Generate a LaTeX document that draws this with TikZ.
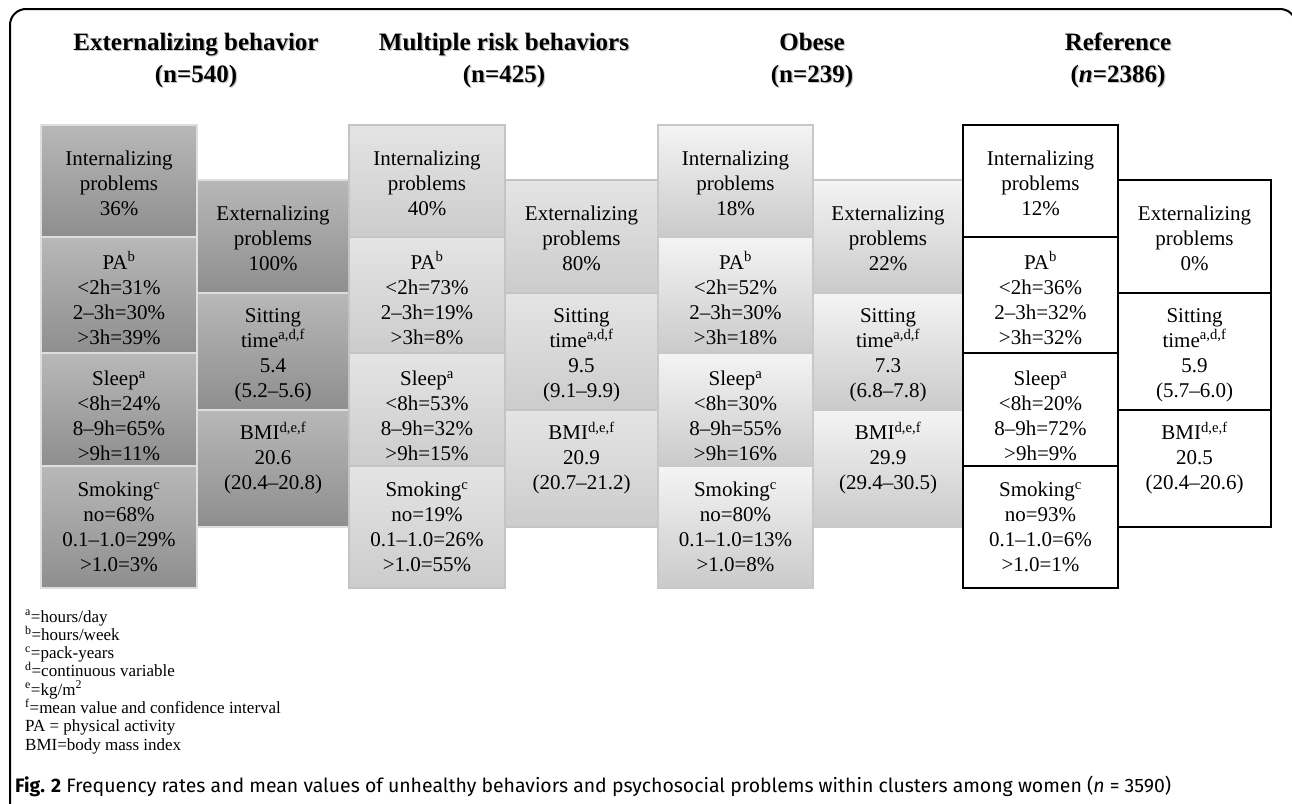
\documentclass[tikz,border=0pt]{standalone}
\usepackage{fontspec}
\setmainfont{Liberation Serif}
\newfontfamily\capfont{Fira Sans}
\usepackage{graphicx}
\definecolor{cAtop}{RGB}{184,184,184}
\definecolor{cAbot}{RGB}{142,142,142}
\definecolor{cAln}{RGB}{222,222,222}
\definecolor{cBtop}{RGB}{228,228,228}
\definecolor{cBbot}{RGB}{204,204,204}
\definecolor{cBln}{RGB}{196,196,196}
\definecolor{cCtop}{RGB}{244,244,244}
\definecolor{cCbot}{RGB}{202,202,202}
\definecolor{cCln}{RGB}{200,200,200}
\definecolor{shadowgray}{RGB}{200,200,200}

% left stack: #1 xl, #2 xr, #3 style, #4 prefix, #5 int, #6 pa, #7 sleep, #8 smoking
\newcommand{\leftstack}[8]{%
  \pgfmathsetmacro\bw{#2-#1}%
  \pgfmathsetmacro\cx{(#1+#2)/2}%
  \node[#3, anchor=north west, minimum width=\bw pt, minimum height=112pt] (#4int) at (#1,125) {};
  \node[#3, anchor=north west, minimum width=\bw pt, minimum height=116pt] (#4pa) at (#1,237) {};
  \node[#3, anchor=north west, minimum width=\bw pt, minimum height=113pt] (#4sl) at (#1,353) {};
  \node[#3, anchor=north west, minimum width=\bw pt, minimum height=122pt] (#4sm) at (#1,466) {};
  \node[txt] (#4intT) at (\cx,183) {#5};
  \node[txt] (#4paT) at (\cx,298) {#6};
  \node[txt] (#4slT) at (\cx,416) {#7};
  \node[txt] (#4smT) at (\cx,527) {#8};
}
% right stack: #1 xl, #2 xr, #3 style, #4 prefix, #5 ext, #6 sitting, #7 bmi
\newcommand{\rightstack}[7]{%
  \pgfmathsetmacro\bw{#2-#1}%
  \pgfmathsetmacro\cx{(#1+#2)/2}%
  \node[#3, anchor=north west, minimum width=\bw pt, minimum height=113pt] (#4ext) at (#1,180) {};
  \node[#3, anchor=north west, minimum width=\bw pt, minimum height=117pt] (#4sit) at (#1,293) {};
  \node[#3, anchor=north west, minimum width=\bw pt, minimum height=117pt] (#4bmi) at (#1,410) {};
  \node[txt] (#4extT) at (\cx,238) {#5};
  \node[txt] (#4sitT) at (\cx,355) {#6};
  \node[txt] (#4bmiT) at (\cx,458) {#7};
}
\newcommand{\ttlpair}[4]{%
  \node[ttl, text=shadowgray] (#4sa) at (#1+1.3,51.3) {#2};
  \node[ttl, text=shadowgray] (#4sb) at (#1+1.3,83.3) {#3};
  \node[ttl] (#4ta) at (#1,50) {#2};
  \node[ttl] (#4tb) at (#1,82) {#3};
}

\begin{document}
\begin{tikzpicture}[x=1pt,y=-1pt,
  txt/.style={align=center, font=\fontsize{21}{25}\selectfont, inner sep=0pt},
  gbox/.style={line width=1.3pt, inner sep=0pt, outer sep=0pt},
  boxA/.style={gbox, draw=cAln, top color=cAtop, bottom color=cAbot},
  boxB/.style={gbox, draw=cBln, top color=cBtop, bottom color=cBbot},
  boxC/.style={gbox, draw=cCln, top color=cCtop, bottom color=cCbot},
  boxR/.style={line width=1.8pt, inner sep=0pt, outer sep=0pt, draw=black, fill=white},
  ttl/.style={font=\bfseries\fontsize{25}{30}\selectfont, inner sep=0pt, anchor=base},
  fn/.style={font=\fontsize{17}{18}\selectfont, inner sep=0pt, anchor=base west},
]
\useasboundingbox (0,0) rectangle (1292,803);
\fill[white] (0,0) rectangle (1292,803);

% outer frame
\draw[line width=2pt, rounded corners=16pt] (10,810) -- (10,9) -- (1296,9) -- (1296,60);

% titles
\ttlpair{196}{Externalizing behavior}{(n=540)}{t1}
\ttlpair{504}{Multiple risk behaviors}{(n=425)}{t2}
\ttlpair{812}{Obese}{(n=239)}{t3}
\ttlpair{1118}{Reference}{(\textit{n}=2386)}{t4}

% column 1
\leftstack{41}{197}{boxA}{a}{Internalizing\\problems\\36\%}{PA\textsuperscript{b}\\<2h=31\%\\2–3h=30\%\\>3h=39\%}{Sleep\textsuperscript{a}\\<8h=24\%\\8–9h=65\%\\>9h=11\%}{Smoking\textsuperscript{c}\\no=68\%\\0.1–1.0=29\%\\>1.0=3\%}
\rightstack{197}{349}{boxA}{a}{Externalizing\\problems\\100\%}{Sitting\\time\textsuperscript{a,d,f}\\5.4\\(5.2–5.6)}{BMI\textsuperscript{d,e,f}\\20.6\\(20.4–20.8)}

% column 2
\leftstack{349}{505}{boxB}{b}{Internalizing\\problems\\40\%}{PA\textsuperscript{b}\\<2h=73\%\\2–3h=19\%\\>3h=8\%}{Sleep\textsuperscript{a}\\<8h=53\%\\8–9h=32\%\\>9h=15\%}{Smoking\textsuperscript{c}\\no=19\%\\0.1–1.0=26\%\\>1.0=55\%}
\rightstack{505}{658}{boxB}{b}{Externalizing\\problems\\80\%}{Sitting\\time\textsuperscript{a,d,f}\\9.5\\(9.1–9.9)}{BMI\textsuperscript{d,e,f}\\20.9\\(20.7–21.2)}

% column 3
\leftstack{658}{813}{boxC}{c}{Internalizing\\problems\\18\%}{PA\textsuperscript{b}\\<2h=52\%\\2–3h=30\%\\>3h=18\%}{Sleep\textsuperscript{a}\\<8h=30\%\\8–9h=55\%\\>9h=16\%}{Smoking\textsuperscript{c}\\no=80\%\\0.1–1.0=13\%\\>1.0=8\%}
\rightstack{813}{963}{boxC}{c}{Externalizing\\problems\\22\%}{Sitting\\time\textsuperscript{a,d,f}\\7.3\\(6.8–7.8)}{BMI\textsuperscript{d,e,f}\\29.9\\(29.4–30.5)}

% reference
\rightstack{1118}{1271}{boxR}{r}{Externalizing\\problems\\0\%}{Sitting\\time\textsuperscript{a,d,f}\\5.9\\(5.7–6.0)}{BMI\textsuperscript{d,e,f}\\20.5\\(20.4–20.6)}
\leftstack{963}{1118}{boxR}{r}{Internalizing\\problems\\12\%}{PA\textsuperscript{b}\\<2h=36\%\\2–3h=32\%\\>3h=32\%}{Sleep\textsuperscript{a}\\<8h=20\%\\8–9h=72\%\\>9h=9\%}{Smoking\textsuperscript{c}\\no=93\%\\0.1–1.0=6\%\\>1.0=1\%}

% footnotes
\foreach \t [count=\i] in {%
  \textsuperscript{a}=hours/day,
  \textsuperscript{b}=hours/week,
  \textsuperscript{c}=pack-years,
  \textsuperscript{d}=continuous variable,
  \textsuperscript{e}=kg/m\textsuperscript{2},
  \textsuperscript{f}=mean value and confidence interval,
  PA = physical activity,
  BMI=body mass index}
  \node[fn] (fn\i) at (25,{622+18.3*(\i-1)}) {\t};

% caption
\node[anchor=base west, inner sep=0pt] (cap) at (15,792) {\resizebox{1156pt}{!}{\capfont\fontsize{18}{20}\selectfont\textbf{Fig. 2} Frequency rates and mean values of unhealthy behaviors and psychosocial problems within clusters among women (\textit{n} = 3590)}};
\end{tikzpicture}
\end{document}
